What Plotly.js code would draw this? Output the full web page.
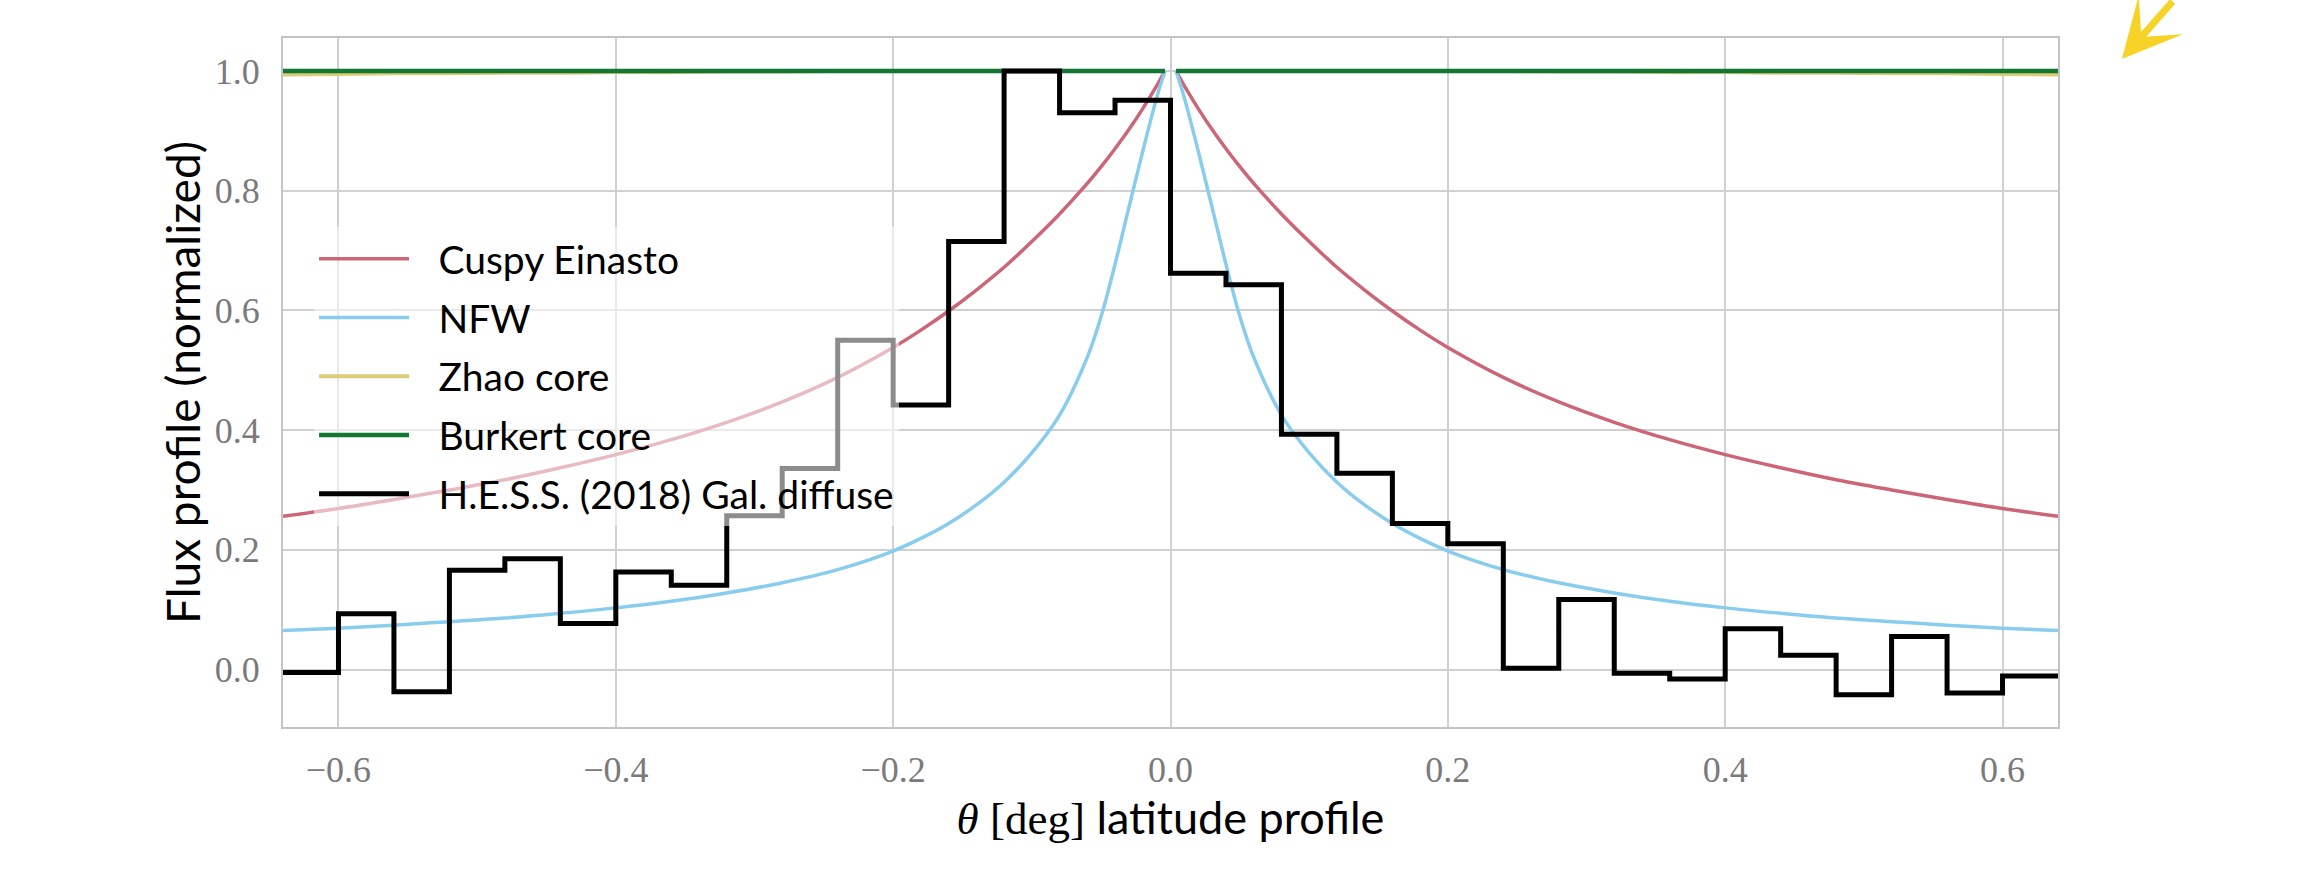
<!DOCTYPE html>
<html>
<head>
<meta charset="utf-8">
<script src="https://cdn.plot.ly/plotly-3.0.1.min.js"></script>
<style>
  html, body { margin: 0; padding: 0; background: #ffffff; }
  #chart { width: 2311px; height: 874px; }
</style>
</head>
<body>
<div id="chart"></div>
<script>
// ---- data ----
const thetaModel = [-0.64,-0.60,-0.56,-0.52,-0.48,-0.44,-0.40,-0.36,-0.32,-0.28,-0.24,-0.20,-0.18,-0.16,-0.14,-0.12,-0.10,-0.08,-0.06,-0.05,-0.04,-0.03,-0.02,-0.01,-0.004,
  0,
  0.004,0.01,0.02,0.03,0.04,0.05,0.06,0.08,0.10,0.12,0.14,0.16,0.18,0.20,0.24,0.28,0.32,0.36,0.40,0.44,0.48,0.52,0.56,0.60,0.64];

const cuspyEinasto = [0.256,0.269,0.284,0.300,0.317,0.337,0.359,0.384,0.413,0.447,0.488,0.538,0.567,0.599,0.634,0.672,0.715,0.761,0.812,0.840,0.870,0.902,0.937,0.975,1.0,
  null,
  1.0,0.975,0.937,0.902,0.870,0.840,0.812,0.761,0.715,0.672,0.634,0.599,0.567,0.538,0.488,0.447,0.413,0.384,0.359,0.337,0.317,0.300,0.284,0.269,0.256];

const nfw = [0.065,0.069,0.074,0.080,0.086,0.094,0.103,0.114,0.128,0.145,0.167,0.198,0.219,0.244,0.275,0.313,0.362,0.425,0.522,0.590,0.677,0.772,0.866,0.955,1.0,
  null,
  1.0,0.955,0.866,0.772,0.677,0.590,0.522,0.425,0.362,0.313,0.275,0.244,0.219,0.198,0.167,0.145,0.128,0.114,0.103,0.094,0.086,0.080,0.074,0.069,0.065];

const zhaoCore = [0.994,0.995,0.996,0.996,0.997,0.997,0.998,0.998,0.999,0.999,1.0,1.0,1.0,1.0,1.0,1.0,1.0,1.0,1.0,1.0,1.0,1.0,1.0,1.0,1.0,
  null,
  1.0,1.0,1.0,1.0,1.0,1.0,1.0,1.0,1.0,1.0,1.0,1.0,1.0,1.0,1.0,0.999,0.999,0.998,0.998,0.997,0.997,0.996,0.996,0.995,0.994];

const burkertCore = [1.0,1.0,1.0,1.0,1.0,1.0,1.0,1.0,1.0,1.0,1.0,1.0,1.0,1.0,1.0,1.0,1.0,1.0,1.0,1.0,1.0,1.0,1.0,1.0,1.0,
  null,
  1.0,1.0,1.0,1.0,1.0,1.0,1.0,1.0,1.0,1.0,1.0,1.0,1.0,1.0,1.0,1.0,1.0,1.0,1.0,1.0,1.0,1.0,1.0,1.0,1.0];

// H.E.S.S. (2018) Galactic diffuse latitude profile: bin edges (deg) and normalized flux per bin
const hessBinEdges = [-0.64,-0.60,-0.56,-0.52,-0.48,-0.44,-0.40,-0.36,-0.32,-0.28,-0.24,-0.20,-0.16,-0.12,-0.08,-0.04,
  0.00,0.04,0.08,0.12,0.16,0.20,0.24,0.28,0.32,0.36,0.40,0.44,0.48,0.52,0.56,0.60,0.64];
const hessFlux = [-0.005,0.093,-0.037,0.166,0.185,0.077,0.163,0.141,0.257,0.336,0.550,0.442,0.715,1.000,0.930,0.951,
  0.662,0.643,0.393,0.328,0.244,0.210,0.002,0.117,-0.006,-0.016,0.068,0.024,-0.042,0.055,-0.039,-0.011];

const seriesNames = ['Cuspy Einasto','NFW','Zhao core','Burkert core','H.E.S.S. (2018) Gal. diffuse'];
const xTickVals = [-0.6,-0.4,-0.2,0.0,0.2,0.4,0.6];
const yTickVals = [0.0,0.2,0.4,0.6,0.8,1.0];

// ---- traces ----
const colors = ['#CC6677','#88CCEE','#DDCC77','#117733','#000000'];
const modelSeries = [cuspyEinasto, nfw, zhaoCore, burkertCore];
const modelWidths = [3.5, 3.5, 4, 4.5];
const legendPad = '\u2002\u2009'; // gap between legend line sample and its text

const traces = modelSeries.map((ys, i) => ({
  type: 'scatter', mode: 'lines',
  x: thetaModel, y: ys,
  name: legendPad + seriesNames[i], legendgroup: 'g' + i,
  connectgaps: false,
  line: {color: colors[i], width: modelWidths[i], shape: 'spline', smoothing: 1.0},
  hoverinfo: 'skip'
}));

// step histogram: value of each bin held from its left edge to the next edge
traces.push({
  type: 'scatter', mode: 'lines',
  x: hessBinEdges,
  y: hessFlux.concat([hessFlux[hessFlux.length - 1]]),
  name: legendPad + seriesNames[4], legendgroup: 'g4',
  line: {color: colors[4], width: 5, shape: 'hv'},
  hoverinfo: 'skip'
});

const serif = '"Liberation Serif", "DejaVu Serif", serif';
const sans = 'Lato, "Open Sans", sans-serif';

const layout = {
  width: 2311, height: 874,
  paper_bgcolor: '#ffffff', plot_bgcolor: '#ffffff',
  margin: {l: 283, r: 253, t: 38, b: 147, pad: 0},
  showlegend: true,
  legend: {
    x: 0.0175, y: 0.7257, xanchor: 'left', yanchor: 'top',
    bgcolor: 'rgba(255,255,255,0.55)', borderwidth: 0,
    font: {family: sans, size: 39, color: '#000000'},
    tracegroupgap: 5, itemwidth: 90, traceorder: 'grouped'
  },
  xaxis: {
    range: [-0.64, 0.64], autorange: false,
    tickmode: 'array', tickvals: xTickVals, tickformat: '.1f',
    ticks: '', ticklabelstandoff: 10,
    tickfont: {family: serif, size: 36, color: '#7a7a7a'},
    showgrid: true, gridcolor: '#d0d0d0', gridwidth: 2,
    zeroline: false, automargin: true,
    showline: true, linecolor: '#c4c4c4', linewidth: 2, mirror: true,
    title: {
      text: '<span style="font-family:Liberation Serif"><i>θ</i> [deg]</span> latitude profile',
      font: {family: sans, size: 45, color: '#000000'}, standoff: 0
    }
  },
  yaxis: {
    range: [-0.096, 1.055], autorange: false,
    tickmode: 'array', tickvals: yTickVals, tickformat: '.1f',
    ticks: '', ticklabelstandoff: 14,
    tickfont: {family: serif, size: 36, color: '#7a7a7a'},
    showgrid: true, gridcolor: '#d0d0d0', gridwidth: 2,
    zeroline: false, automargin: true,
    showline: true, linecolor: '#c4c4c4', linewidth: 2, mirror: true,
    title: {
      text: 'Flux profile (normalized)',
      font: {family: sans, size: 46, color: '#000000'}, standoff: 0
    }
  },
  annotations: [{
    xref: 'paper', yref: 'paper', x: 1.036, y: 0.9695,
    text: '', showarrow: true,
    axref: 'pixel', ayref: 'pixel', ax: 52, ay: -72,
    arrowhead: 3, arrowsize: 1.4, arrowwidth: 7, arrowcolor: '#F5D327'
  }]
};

Plotly.newPlot('chart', traces, layout, {displayModeBar: false, staticPlot: true});
</script>
</body>
</html>
